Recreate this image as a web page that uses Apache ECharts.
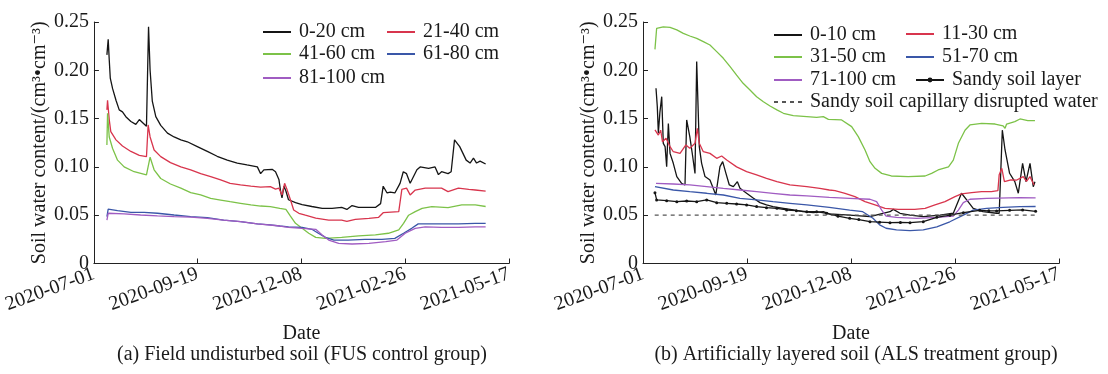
<!DOCTYPE html>
<html><head><meta charset="utf-8">
<script src="https://cdn.jsdelivr.net/npm/echarts@6/dist/echarts.min.js"></script>
<style>html,body{margin:0;padding:0;background:#fff}#c{width:1108px;height:374px}</style>
</head><body><div id="c"></div>
<script>
// x values: days since 2020-07-01
const xTickDays = [0, 80, 160, 240, 320];
const panelTitles = ['(a) Field undisturbed soil (FUS control group)', '(b) Artificially layered soil (ALS treatment group)'];
const fusNames = ['0-20 cm', '21-40 cm', '41-60 cm', '61-80 cm', '81-100 cm'];
const alsNames = ['0-10 cm', '11-30 cm', '31-50 cm', '51-70 cm', '71-100 cm', 'Sandy soil layer', 'Sandy soil capillary disrupted water'];

const fus_0_20 = [[10,0.216],[11,0.232],[11.8,0.211],[12.6,0.192],[14.4,0.181],[15.6,0.180],[17,0.169],[19.5,0.159],[22,0.157],[24.6,0.152],[28.5,0.147],[32.3,0.144],[35,0.149],[37.4,0.146],[40.5,0.142],[42.1,0.245],[43.3,0.200],[45,0.168],[47.7,0.152],[51.5,0.143],[56.7,0.135],[61.8,0.131],[67,0.128],[72,0.126],[79.7,0.121],[87.4,0.116],[95,0.111],[102.8,0.107],[110.5,0.104],[118,0.102],[126,0.100],[128.5,0.093],[131,0.097],[137.4,0.0975],[140,0.095],[142.6,0.087],[144,0.074],[145,0.068],[146.5,0.080],[148,0.075],[150,0.066],[155.4,0.063],[160.5,0.061],[168,0.059],[176,0.057],[183.6,0.057],[191,0.058],[195,0.056],[199,0.060],[204,0.058],[209,0.058],[217,0.058],[221,0.062],[223,0.080],[226,0.073],[228.5,0.074],[232,0.073],[236,0.083],[238.5,0.095],[241,0.093],[243.8,0.083],[246.4,0.090],[249,0.097],[251.5,0.100],[258,0.0985],[263,0.100],[265.6,0.092],[268,0.095],[273,0.093],[275.4,0.095],[278,0.128],[282,0.121],[287,0.107],[290,0.104],[292.6,0.109],[295,0.104],[297.7,0.106],[302,0.103]];
const fus_21_40 = [[10,0.159],[10.5,0.169],[11.8,0.149],[13,0.1365],[17,0.128],[22,0.1216],[28.5,0.116],[35,0.112],[40.5,0.1106],[41.8,0.1434],[43.3,0.131],[46.4,0.1175],[51.5,0.1106],[59,0.1044],[67,0.100],[74.6,0.097],[82.3,0.093],[90,0.090],[97.7,0.0865],[105,0.083],[113,0.0813],[121,0.080],[128.5,0.079],[136,0.0796],[140,0.077],[142.6,0.078],[145,0.071],[147,0.083],[149,0.076],[151.5,0.066],[154,0.0554],[158,0.052],[163,0.050],[171,0.047],[181,0.045],[191,0.045],[195,0.0437],[201.5,0.0457],[212,0.0468],[219.5,0.0478],[223,0.0526],[235,0.0537],[237.4,0.0768],[241,0.078],[243.8,0.071],[247.7,0.076],[255.4,0.078],[268,0.078],[273,0.0744],[281,0.078],[289,0.0768],[294,0.0761],[302,0.075]];
const fus_41_60 = [[10,0.1227],[10.5,0.1555],[11.8,0.131],[14.4,0.119],[18.2,0.107],[23.3,0.100],[31,0.095],[40.5,0.0917],[43.3,0.110],[46.4,0.097],[51.5,0.088],[59,0.0823],[67,0.078],[74.6,0.0733],[82.3,0.071],[90,0.0675],[97.7,0.0657],[105,0.064],[113,0.0623],[121,0.0606],[128.5,0.0595],[136,0.0589],[143.3,0.0571],[148,0.056],[151.5,0.049],[155.4,0.0416],[160.5,0.0364],[165.6,0.0313],[171,0.027],[178.5,0.026],[191,0.027],[204,0.0285],[217,0.0296],[227,0.0313],[235,0.0347],[238.7,0.0416],[242.6,0.050],[247.7,0.0537],[253,0.0571],[260.5,0.0589],[273,0.0578],[283.6,0.0606],[294,0.0606],[302,0.059]];
const fus_61_80 = [[10,0.0485],[11,0.0564],[18.2,0.0547],[28.5,0.053],[38.7,0.053],[49,0.052],[61.8,0.0502],[74.6,0.0485],[87.4,0.0475],[100,0.045],[113,0.0433],[126,0.041],[136,0.040],[143.3,0.0388],[150,0.038],[160.5,0.0375],[168,0.0354],[173,0.0313],[178.5,0.027],[185,0.0243],[196,0.0243],[209,0.025],[222,0.025],[232,0.026],[238.7,0.0313],[245,0.0364],[250,0.041],[255.4,0.041],[268,0.041],[281,0.041],[294,0.0416],[302,0.0416]];
const fus_81_100 = [[10,0.045],[11,0.052],[23.3,0.0513],[36,0.0502],[49,0.0492],[61.8,0.0485],[74.6,0.048],[87.4,0.0468],[100,0.045],[113,0.0433],[126,0.041],[143.3,0.0388],[150,0.0375],[160.5,0.0364],[171,0.0354],[176,0.0295],[181,0.0243],[188.7,0.0209],[199,0.0202],[212,0.0209],[225,0.0226],[233.6,0.0243],[240,0.0313],[247.7,0.0364],[255.4,0.038],[268,0.0375],[281,0.0375],[294,0.038],[302,0.038]];

const als_0_10 = [[10,0.1814],[11,0.1624],[11.8,0.135],[13,0.1565],[14.4,0.1727],[15.6,0.1244],[17,0.121],[18.2,0.1003],[19.5,0.145],[20.8,0.114],[23.3,0.1037],[26,0.090],[29.7,0.083],[32.3,0.0813],[33.6,0.1486],[36,0.1313],[38.2,0.111],[40,0.0933],[41.3,0.209],[43.3,0.121],[45.1,0.1037],[47.7,0.090],[51.5,0.0865],[54,0.0778],[56,0.071],[59.2,0.1003],[61.3,0.1054],[63.8,0.0933],[66.4,0.0813],[69.5,0.0796],[72.6,0.0847],[74.6,0.0778],[79.7,0.0727],[85,0.0675],[90,0.063],[95,0.0606],[100,0.0589],[108,0.0571],[115.6,0.0554],[123,0.0537],[131,0.0526],[138.7,0.0537],[143.3,0.0513],[159,0.050],[174.6,0.0485],[190,0.0536],[192.6,0.056],[197.7,0.052],[205.4,0.050],[215.6,0.0485],[228.5,0.050],[238.7,0.052],[245,0.0727],[249,0.0658],[254,0.057],[261.5,0.0536],[272,0.052],[274,0.052],[276.4,0.138],[278.5,0.1175],[282,0.0934],[286,0.0847],[288.7,0.0727],[292,0.1037],[294.6,0.0847],[297.7,0.1037],[300.2,0.0795],[301.5,0.0847]];
const als_11_30 = [[9.2,0.1383],[11.8,0.133],[13.6,0.138],[15,0.126],[17.7,0.1296],[20.8,0.121],[23.3,0.1157],[28.5,0.114],[33,0.1227],[36,0.1192],[40,0.1244],[41.8,0.14],[43.3,0.1244],[46.4,0.1157],[51.5,0.114],[56.7,0.1089],[60.5,0.1113],[64.4,0.1071],[72,0.100],[79.7,0.0951],[87.4,0.0917],[95,0.0882],[103,0.0847],[113,0.0813],[126,0.0796],[136,0.0778],[143.3,0.0761],[147.7,0.0754],[155.4,0.0727],[163,0.0692],[170.8,0.064],[178.5,0.0606],[186.2,0.0571],[196.4,0.056],[209,0.056],[217,0.0571],[224.6,0.0606],[232.3,0.064],[240,0.0692],[245,0.072],[252.8,0.0733],[260.5,0.0744],[268,0.0744],[273,0.0754],[274,0.092],[276,0.0985],[278,0.0847],[283,0.0865],[287.5,0.0864],[292.5,0.0899],[295,0.085],[297.7,0.0899],[300.8,0.0813]];
const als_31_50 = [[9.2,0.2217],[10.5,0.2435],[15.6,0.245],[20.8,0.2445],[26,0.2418],[31,0.2383],[36,0.2355],[41.3,0.233],[46.4,0.2296],[51.5,0.2262],[56.7,0.2193],[61.8,0.2124],[67,0.2038],[72,0.195],[77,0.1865],[82.3,0.1796],[87.4,0.1727],[92.6,0.1675],[97.7,0.163],[103,0.159],[108,0.1555],[115.6,0.153],[126,0.152],[133.6,0.1513],[138.7,0.152],[142.6,0.1492],[152.8,0.1486],[160.5,0.1417],[165.6,0.1313],[170.8,0.1175],[174.6,0.1054],[178.5,0.0985],[183.6,0.0933],[191,0.0906],[204,0.090],[217,0.0906],[222,0.0933],[227,0.0968],[235,0.100],[238.7,0.107],[242.6,0.1244],[247.7,0.138],[251.5,0.1434],[260.5,0.145],[270.8,0.1444],[277,0.1424],[278.5,0.140],[279.7,0.1444],[286,0.1468],[290,0.1496],[296,0.148],[301.5,0.1478]];
const als_51_70 = [[9.2,0.0795],[10.5,0.0778],[23.3,0.0761],[36,0.0744],[49,0.0727],[61.8,0.0709],[74.6,0.0675],[87.4,0.0658],[100,0.064],[113,0.0623],[126,0.0606],[143.3,0.0582],[159,0.0553],[169,0.0536],[176.9,0.0468],[182,0.040],[187,0.0365],[195,0.0348],[205.4,0.0341],[215.6,0.0348],[226,0.038],[236,0.0432],[246.4,0.050],[254,0.0553],[264.4,0.057],[277,0.058],[290,0.0588],[302,0.059]];
const als_71_100 = [[10,0.083],[23.3,0.0823],[36,0.0813],[49,0.0796],[61.8,0.0778],[74.6,0.0761],[87.4,0.0744],[100,0.0727],[113,0.0709],[126,0.070],[143.3,0.0685],[159,0.0675],[174.6,0.0665],[179.7,0.064],[183.6,0.0553],[187,0.049],[195,0.0478],[210.5,0.0468],[226,0.0478],[238.7,0.049],[242.6,0.0553],[246.4,0.063],[251.5,0.0665],[264.4,0.0675],[290,0.0682],[302,0.068]];
const als_sandy = [[9.2,0.0733],[10.5,0.0658],[18.2,0.065],[26,0.064],[33.6,0.0647],[41.3,0.064],[49,0.0658],[56.7,0.063],[64.4,0.0623],[72,0.0616],[79.7,0.0606],[87.4,0.0589],[95,0.0578],[103,0.0571],[110.5,0.0554],[118,0.0547],[126,0.0537],[133.6,0.0537],[141.3,0.052],[150,0.049],[159,0.0468],[166,0.0455],[174.6,0.0433],[182,0.0428],[190,0.0423],[198,0.0425],[205.4,0.0423],[215.6,0.0433],[226,0.0478],[236,0.050],[246.4,0.0526],[259,0.055],[266,0.0545],[272,0.0544],[282,0.055],[292,0.0555],[302,0.054]];
const als_capillary = [[9,0.05],[303,0.05]];

const SERIF = '"Liberation Serif", "DejaVu Serif", serif';
const TXT = '#1a1a1a';
const FS = 20;
const C = {black:'#151515', red:'#d8354d', green:'#7cc248', blue:'#3a57a8', purple:'#a05cc2', dash:'#555'};

function fmtDate(d){
  const t = new Date(Date.UTC(2020,6,1) + d*86400000);
  const p = n => (n<10?'0':'')+n;
  return t.getUTCFullYear()+'-'+p(t.getUTCMonth()+1)+'-'+p(t.getUTCDate());
}
function xAx(gi){
  return {type:'value', gridIndex:gi, min:xTickDays[0], max:xTickDays[xTickDays.length-1], interval:80,
    name:'Date', nameLocation:'middle', nameGap:60, nameTextStyle:{fontFamily:SERIF, fontSize:FS, color:TXT},
    axisLine:{lineStyle:{color:'#222', width:1}},
    axisTick:{inside:true, length:5, lineStyle:{color:'#222'}},
    axisLabel:{rotate:20, margin:10, fontFamily:SERIF, fontSize:FS, color:TXT, formatter:fmtDate},
    splitLine:{show:false}};
}
function yAx(gi, gap){
  return {type:'value', gridIndex:gi, min:0, max:0.25, interval:0.05,
    name:'Soil water content/(cm³•cm⁻³)', nameLocation:'middle', nameGap:gap,
    nameTextStyle:{fontFamily:SERIF, fontSize:FS, color:TXT},
    axisLine:{show:true, lineStyle:{color:'#222', width:1}},
    axisTick:{show:true, inside:true, length:5, lineStyle:{color:'#222'}},
    axisLabel:{fontFamily:SERIF, fontSize:FS, color:TXT, margin:5, formatter:v => v===0?'0':v.toFixed(2)},
    splitLine:{show:false}};
}
function ln(name, data, color, gi, extra){
  return Object.assign({type:'line', name, data, xAxisIndex:gi, yAxisIndex:gi, symbol:'none', smooth:false,
    lineStyle:{color, width:1.3}, itemStyle:{color}, z:2, animation:false, silent:true}, extra||{});
}
function lg(name, left, top, withDot){
  return {data:[name], left, top, orient:'horizontal', padding:0, itemWidth:28, itemHeight:withDot?6:12, itemGap:0,
    itemStyle: withDot ? {} : {opacity:0},
    textStyle:{fontFamily:SERIF, fontSize:FS, color:TXT, lineHeight:20, padding:[0,0,0,3]}, selectedMode:false};
}

const option = {
  backgroundColor:'#fff',
  animation:false,
  grid:[{left:93, top:22, width:416, height:241.5}, {left:643, top:22, width:416, height:241.5}],
  xAxis:[xAx(0), xAx(1)],
  yAxis:[yAx(0, 44), yAx(1, 39)],
  legend:[
    lg(fusNames[0], 262, 22), lg(fusNames[1], 386, 22),
    lg(fusNames[2], 262, 44), lg(fusNames[3], 386, 44),
    lg(fusNames[4], 262, 68),
    lg(alsNames[0], 773, 25), lg(alsNames[1], 905, 24),
    lg(alsNames[2], 773, 47), lg(alsNames[3], 905, 47),
    lg(alsNames[4], 773, 70), lg(alsNames[5], 915, 70, true),
    lg(alsNames[6], 773, 92)
  ],
  graphic:[
    {type:'text', x:302, y:355, style:{text:panelTitles[0], font:'20px '+SERIF, fill:TXT, textAlign:'center', textVerticalAlign:'middle'}},
    {type:'text', x:856, y:355, style:{text:panelTitles[1], font:'20px '+SERIF, fill:TXT, textAlign:'center', textVerticalAlign:'middle'}}
  ],
  series:[
    ln(fusNames[0], fus_0_20, C.black, 0),
    ln(fusNames[1], fus_21_40, C.red, 0),
    ln(fusNames[2], fus_41_60, C.green, 0),
    ln(fusNames[3], fus_61_80, C.blue, 0),
    ln(fusNames[4], fus_81_100, C.purple, 0),
    ln(alsNames[0], als_0_10, C.black, 1),
    ln(alsNames[1], als_11_30, C.red, 1),
    ln(alsNames[2], als_31_50, C.green, 1),
    ln(alsNames[3], als_51_70, C.blue, 1),
    ln(alsNames[4], als_71_100, C.purple, 1),
    ln(alsNames[5], als_sandy, C.black, 1, {symbol:'circle', symbolSize:3, showSymbol:true}),
    ln(alsNames[6], als_capillary, C.dash, 1, {lineStyle:{color:C.dash, width:1.2, type:[4,4]}})
  ]
};
const chart = echarts.init(document.getElementById('c'), null, {renderer:'canvas'});
chart.setOption(option);
</script></body></html>
